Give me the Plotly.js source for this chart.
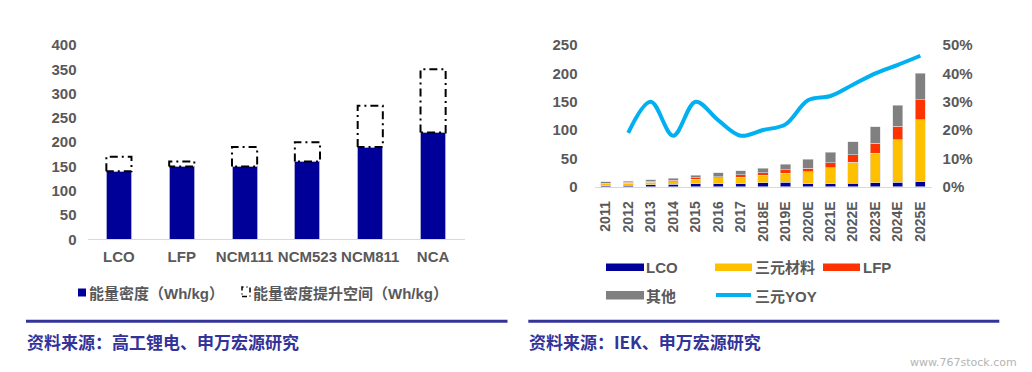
<!DOCTYPE html>
<html>
<head>
<meta charset="utf-8">
<script src="https://cdn.plot.ly/plotly-3.0.1.min.js"></script>
<style>
  html, body { margin: 0; padding: 0; background: #ffffff; }
  #chart { width: 1032px; height: 372px; }
</style>
</head>
<body>
<div id="chart"></div>
<script>
// ---------- Data: left chart ----------
const materials = ['LCO', 'LFP', 'NCM111', 'NCM523', 'NCM811', 'NCA'];
const energyDensity = [140, 150, 150, 160, 190, 220];          // Wh/kg
const energyDensityCeiling = [170, 160, 190, 200, 275, 350];   // Wh/kg (top of potential)
const leftLegendNames = ['能量密度（Wh/kg）', '能量密度提升空间（Wh/kg）'];

// ---------- Data: right chart ----------
const years = ['2011', '2012', '2013', '2014', '2015', '2016', '2017', '2018E', '2019E', '2020E', '2021E', '2022E', '2023E', '2024E', '2025E'];
const lcoDemand     = [2, 2.5, 3.5, 4, 5.5, 5.5, 5.5, 7, 7.5, 5, 5.5, 6, 7, 7.5, 8.5];
const ternaryDemand = [3, 3.5, 4, 5, 8, 10, 11.5, 13.5, 16, 21, 28, 37.5, 52, 75.5, 109.5];
const lfpDemand     = [1.5, 1.5, 2, 2, 2, 2.5, 4, 4, 6.5, 7, 9, 12.5, 17.5, 24, 35.5];
const otherDemand   = [2.5, 2.5, 3, 4, 5, 6.5, 7, 8.5, 9.5, 15, 18.5, 23, 29, 37, 46.5];
const ternaryYoY    = [null, 0.19, 0.30, 0.18, 0.30, 0.235, 0.18, 0.20, 0.22, 0.305, 0.32, 0.36, 0.40, 0.43, 0.462];
const rightSeriesNames = ['LCO', '三元材料', 'LFP', '其他', '三元YOY'];

const sourceLeft = '资料来源：高工锂电、申万宏源研究';
const sourceRight = '资料来源：IEK、申万宏源研究';
const watermark = 'www.767stock.com';

// ---------- Styles ----------
const FONT = 'Liberation Sans, Arial, "Noto Sans CJK SC", sans-serif';
const GRAY = '#595959';
const NAVY = '#000099';
const C_YEL = '#FFC000', C_RED = '#FF3300', C_GRY = '#808080', C_LINE = '#00B0F0';
const SRC = '#333399';
const tickFont = { family: FONT, size: 15, color: GRAY, weight: 'bold' };
const W = 1032, H = 372;
const px = v => v / W;
const py = v => 1 - v / H;

// ---------- Left chart traces ----------
const xIdx = materials.map((_, i) => i);
const halfW = 0.2;
const boxX = [], boxY = [];
xIdx.forEach((i) => {
  const b = energyDensity[i], t = energyDensityCeiling[i];
  boxX.push(i - halfW, i - halfW, i + halfW, i + halfW, i - halfW, null);
  boxY.push(b, t, t, b, b, null);
});

const traces = [
  {
    type: 'bar', x: xIdx, y: energyDensity, width: 0.4,
    marker: { color: NAVY, line: { color: '#a9a9d6', width: 1 } },
    name: leftLegendNames[0], xaxis: 'x', yaxis: 'y', showlegend: false, hoverinfo: 'y'
  },
  {
    type: 'scatter', mode: 'lines', x: boxX, y: boxY,
    line: { color: '#000000', width: 2, dash: '8px,4px,2px,4px' },
    name: leftLegendNames[1], xaxis: 'x', yaxis: 'y', showlegend: false, hoverinfo: 'skip'
  },
  // ---------- Right chart traces ----------
  { type: 'bar', x: years, y: lcoDemand, name: rightSeriesNames[0], marker: { color: NAVY, line: { color: '#dcdcdc', width: 0.6 } }, xaxis: 'x2', yaxis: 'y2', showlegend: false },
  { type: 'bar', x: years, y: ternaryDemand, name: rightSeriesNames[1], marker: { color: C_YEL, line: { color: '#dcdcdc', width: 0.6 } }, xaxis: 'x2', yaxis: 'y2', showlegend: false },
  { type: 'bar', x: years, y: lfpDemand, name: rightSeriesNames[2], marker: { color: C_RED, line: { color: '#dcdcdc', width: 0.6 } }, xaxis: 'x2', yaxis: 'y2', showlegend: false },
  { type: 'bar', x: years, y: otherDemand, name: rightSeriesNames[3], marker: { color: C_GRY, line: { color: '#dcdcdc', width: 0.6 } }, xaxis: 'x2', yaxis: 'y2', showlegend: false },
  { type: 'scatter', mode: 'lines', x: years, y: ternaryYoY, name: rightSeriesNames[4], line: { color: C_LINE, width: 4, shape: 'spline', smoothing: 1 }, connectgaps: false, xaxis: 'x2', yaxis: 'y3', showlegend: false }
];

// ---------- Custom legends & decorations ----------
const shapes = [
  // left legend symbols
  { type: 'rect', xref: 'paper', yref: 'paper', x0: px(78), x1: px(86), y0: py(296.5), y1: py(288.5), fillcolor: NAVY, line: { width: 0 } },
  { type: 'rect', xref: 'paper', yref: 'paper', x0: px(242), x1: px(250), y0: py(296.5), y1: py(287), fillcolor: '#fff', line: { color: '#000', width: 1.5, dash: '5px,3px,1px,3px' } },
  // right legend symbols
  { type: 'rect', xref: 'paper', yref: 'paper', x0: px(606), x1: px(644), y0: py(271), y1: py(263.5), fillcolor: NAVY, line: { width: 0 } },
  { type: 'rect', xref: 'paper', yref: 'paper', x0: px(715), x1: px(752), y0: py(271), y1: py(263.5), fillcolor: C_YEL, line: { width: 0 } },
  { type: 'rect', xref: 'paper', yref: 'paper', x0: px(823), x1: px(860), y0: py(271), y1: py(263.5), fillcolor: C_RED, line: { width: 0 } },
  { type: 'rect', xref: 'paper', yref: 'paper', x0: px(606), x1: px(644), y0: py(299.5), y1: py(291), fillcolor: C_GRY, line: { width: 0 } },
  { type: 'line', xref: 'paper', yref: 'paper', x0: px(716), x1: px(751), y0: py(295), y1: py(295), line: { color: C_LINE, width: 4 } },
  // source separator lines
  { type: 'line', xref: 'paper', yref: 'paper', x0: px(26), x1: px(507.5), y0: py(321.3), y1: py(321.3), line: { color: SRC, width: 3 } },
  { type: 'line', xref: 'paper', yref: 'paper', x0: px(528.3), x1: px(999.3), y0: py(321.3), y1: py(321.3), line: { color: SRC, width: 3 } }
];

const legFont = { family: FONT, size: 15, color: GRAY, weight: 'bold' };
function ann(text, x, y, font, xanchor) {
  return { text: text, xref: 'paper', yref: 'paper', x: px(x), y: py(y), xanchor: xanchor || 'left', yanchor: 'middle', showarrow: false, font: font };
}
const srcFont = { family: '"Noto Sans CJK SC", sans-serif', size: 17, color: SRC, weight: 'bold' };
const annotations = [
  ann(leftLegendNames[0], 87, 293, legFont),
  ann(leftLegendNames[1], 251, 293, legFont),
  ann(rightSeriesNames[0], 644, 267, legFont),
  ann(rightSeriesNames[1], 753, 267, legFont),
  ann(rightSeriesNames[2], 861, 267, legFont),
  ann(rightSeriesNames[3], 644, 296, legFont),
  ann(rightSeriesNames[4], 753, 296, legFont),
  ann(sourceLeft, 25, 341.5, srcFont),
  ann(sourceRight, 527, 341.5, srcFont),
  ann(watermark, 1019, 362, { family: 'DejaVu Sans, sans-serif', size: 11, color: '#b4b4b4' }, 'right')
];

const layout = {
  width: W, height: H,
  margin: { l: 0, r: 0, t: 0, b: 0 },
  paper_bgcolor: '#ffffff', plot_bgcolor: 'rgba(0,0,0,0)',
  showlegend: false,
  barmode: 'stack',
  bargap: 0.55,
  xaxis: {
    domain: [px(87.5), px(464.5)], range: [-0.5, 5.5],
    tickmode: 'array', tickvals: xIdx, ticktext: materials,
    showgrid: false, zeroline: false, showline: true, linecolor: '#d9d9d9', linewidth: 1,
    ticks: '', tickfont: tickFont, ticklabelstandoff: 4, anchor: 'y', fixedrange: true
  },
  yaxis: {
    domain: [py(239.3), py(45)], range: [0, 400], dtick: 50,
    showgrid: false, zeroline: false, showline: false, ticks: '',
    tickfont: tickFont, ticklabelstandoff: 10, anchor: 'x', fixedrange: true
  },
  xaxis2: {
    domain: [px(594.5), px(931.6)], type: 'category',
    showgrid: false, zeroline: false, showline: true, linecolor: '#d9d9d9', linewidth: 1,
    ticks: '', tickangle: -90, tickfont: { family: FONT, size: 14, color: GRAY, weight: 'bold' },
    ticklabelstandoff: 8, anchor: 'y2', fixedrange: true
  },
  yaxis2: {
    domain: [py(186.7), py(45)], range: [0, 250], dtick: 50,
    showgrid: false, zeroline: false, showline: false, ticks: '',
    tickfont: tickFont, ticklabelstandoff: 16, anchor: 'x2', fixedrange: true
  },
  yaxis3: {
    overlaying: 'y2', side: 'right', range: [0, 0.5], dtick: 0.1, tickformat: '.0%',
    showgrid: false, zeroline: false, showline: false, ticks: '',
    tickfont: tickFont, ticklabelstandoff: 10, anchor: 'x2', fixedrange: true
  },
  shapes: shapes,
  annotations: annotations
};

Plotly.newPlot('chart', traces, layout, { displayModeBar: false, staticPlot: true });
</script>
</body>
</html>
